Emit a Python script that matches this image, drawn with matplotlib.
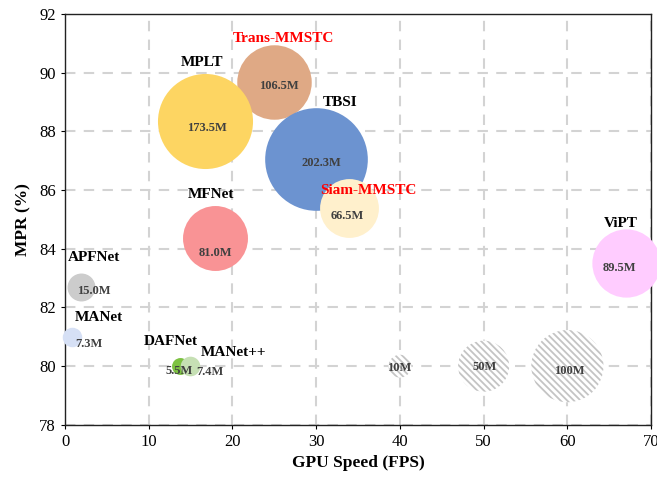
import matplotlib
matplotlib.use("Agg")
import matplotlib.pyplot as plt

plt.rcParams['font.family'] = ['Liberation Serif', 'DejaVu Serif']
plt.rcParams['hatch.linewidth'] = 1.3

# Data
names = ["Trans-MMSTC", "MPLT", "TBSI", "Siam-MMSTC", "MFNet", "ViPT",
         "APFNet", "MANet", "DAFNet", "MANet++"]
fps = [24.9, 16.7, 29.95, 33.9, 17.95, 67.0, 1.85, 0.8, 13.7, 14.9]
mpr = [89.67, 88.36, 87.07, 85.4, 84.38, 83.5, 82.68, 81.0, 80.0, 80.0]
params = [106.5, 173.5, 202.3, 66.5, 81.0, 89.5, 15.0, 7.3, 5.5, 7.4]
value_labels = ["106.5M", "173.5M", "202.3M", "66.5M", "81.0M", "89.5M",
                "15.0M", "7.3M", "5.5M", "7.4M"]

ref_sizes = [10, 50, 100]
ref_fps = [40, 50, 60]
ref_mpr = [80, 80, 80]
ref_labels = ["10M", "50M", "100M"]

x_ticks = [0, 10, 20, 30, 40, 50, 60, 70]
y_ticks = [78, 80, 82, 84, 86, 88, 90, 92]

# Styles
colors = ["#DFA985", "#FDD562", "#6C93D0", "#FFF0CC", "#F99395", "#FFCCFF",
          "#CCCCCC", "#D6E0F5", "#7DC242", "#C6E0B4"]
name_colors = ["red", "black", "black", "red", "black", "black",
               "black", "black", "black", "black"]
# offsets in pixels (dx, dy up) for name and value labels
name_off = [(10, 44), (-3, 58), (24, 56), (20, 17), (-4, 43), (-5, 40),
            (13, 30), (27, 19), (-9, 25), (44, 14)]
val_off = [(5, -3.5), (2, -7), (6, -4), (-2, -8), (0, -15), (-7, -5),
           (13, -4), (17, -7), (-1, -5), (20, -6)]
ref_val_off = [(-1, -2), (1, -1), (2, -5)]
SCALE = 27.0

fig = plt.figure(figsize=(6.57, 4.79), dpi=100)
ax = fig.add_axes([0.099, 0.113, 0.892, 0.858])
ax.set_xlim(0, 70)
ax.set_ylim(78, 92)
ax.set_xticks(x_ticks)
ax.set_yticks(y_ticks)
ax.tick_params(labelsize=12, direction='out', length=3)
ax.grid(True, linestyle=(0, (5, 4)), color='#d3d3d3', linewidth=1.5)
ax.set_axisbelow(True)
for sp in ax.spines.values():
    sp.set_linewidth(1.0)
    sp.set_color('#222222')

# reference hatched bubbles
ax.scatter(ref_fps, ref_mpr, s=[SCALE * v for v in ref_sizes], facecolor='white',
           edgecolor='#c4c4c4', linewidths=0, hatch='\\\\\\\\\\', zorder=2)
for x, y, lab, (dx, dy) in zip(ref_fps, ref_mpr, ref_labels, ref_val_off):
    ax.annotate(lab, (x, y), xytext=(dx * 0.72, dy * 0.72), textcoords='offset points',
                ha='center', va='center', fontsize=9, fontweight='bold',
                color='#404040', zorder=5)

for i in range(len(names)):
    ax.scatter([fps[i]], [mpr[i]], s=[SCALE * params[i]], color=colors[i],
               linewidths=0, zorder=3 + i * 0.01, clip_on=False)
    dx, dy = name_off[i]
    ax.annotate(names[i], (fps[i], mpr[i]), xytext=(dx * 0.72, dy * 0.72),
                textcoords='offset points', ha='center', va='center',
                fontsize=11, fontweight='bold', color=name_colors[i], zorder=6)
    dx, dy = val_off[i]
    ax.annotate(value_labels[i], (fps[i], mpr[i]), xytext=(dx * 0.72, dy * 0.72),
                textcoords='offset points', ha='center', va='center',
                fontsize=9, fontweight='bold', color='#404040', zorder=6)

ax.set_xlabel("GPU Speed (FPS)", fontsize=12.5, fontweight='bold', labelpad=4)
ax.set_ylabel("MPR (%)", fontsize=12.5, fontweight='bold', labelpad=6)

fig.savefig("out.png", dpi=100)
